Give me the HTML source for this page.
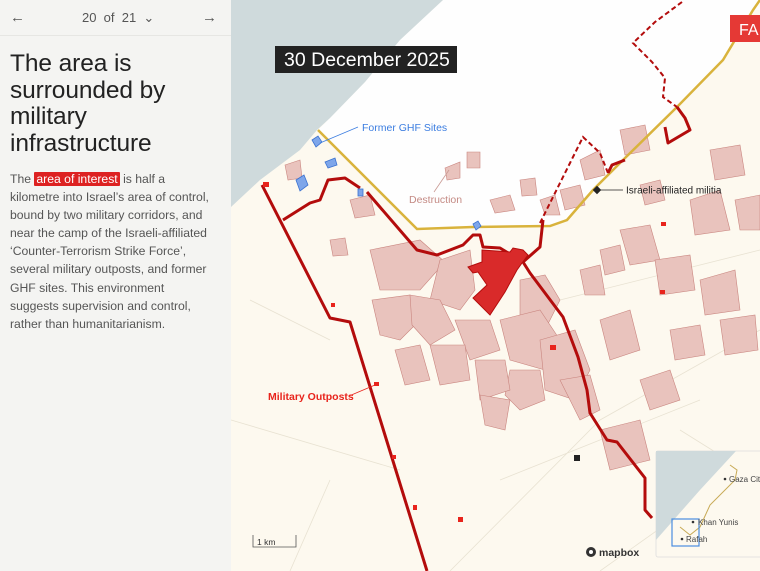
<!DOCTYPE html>
<html><head><meta charset="utf-8"><style>
*{margin:0;padding:0;box-sizing:border-box}
body{width:760px;height:571px;overflow:hidden;background:#f4f4f2;font-family:"Liberation Sans",sans-serif;position:relative}
#left{position:absolute;left:0;top:0;width:231px;height:571px;background:#f4f4f2}
#nav{height:36px;border-bottom:1px solid #e6e6e3;position:relative;color:#555;font-size:13px}
#nav .l{position:absolute;left:10px;top:9px;font-size:15px}
#nav .r{position:absolute;left:202px;top:9px;font-size:15px}
#nav .c{position:absolute;left:82px;top:10px;color:#555}
h1{position:absolute;left:10px;top:51px;font-size:24.5px;line-height:26.7px;font-weight:normal;color:#222;letter-spacing:-0.1px}
p{position:absolute;left:10px;top:170px;width:220px;font-size:12.2px;line-height:18.1px;color:#555}
.hl{background:#dd2222;color:#fff;padding:0 2px;border-radius:1px}
#map{position:absolute;left:231px;top:0;width:529px;height:571px}
</style></head><body>
<div id="left">
<div id="nav"><span class="l">←</span><span class="c">20 &nbsp;of &nbsp;21 &nbsp;⌄</span><span class="r">→</span></div>
<h1>The area is<br>surrounded by<br>military<br>infrastructure</h1>
<p>The <span class="hl">area of interest</span> is half a<br>kilometre into Israel’s area of control,<br>bound by two military corridors, and<br>near the camp of the Israeli-affiliated<br>‘Counter-Terrorism Strike Force’,<br>several military outposts, and former<br>GHF sites. This environment<br>suggests supervision and control,<br>rather than humanitarianism.</p>
</div>
<svg id="map" width="529" height="571" viewBox="231 0 529 571" xmlns="http://www.w3.org/2000/svg">
<rect x="231" y="0" width="529" height="571" fill="#fdf9ef"/>
<polygon points="443,0 760,0 760,10 753,10 723,60 677,107 623,160 593,190 567,220 550,226 473,227 417,229 318,130 330,118 365,82 400,40" fill="#fefefe"/>
<polygon points="231,0 443,0 400,40 365,82 330,118 317,130 300,150 260,180 231,207" fill="#cfdadc"/>
<g stroke="#e8e2d2" stroke-width="0.8" fill="none">
<path d="M231,420 L400,470 M450,571 L600,420 L760,330 M290,571 L330,480 M500,480 L700,400 M600,571 L700,500 M560,300 L760,250 M680,430 L760,480 M250,300 L330,340"/>
</g>
<g fill="#e9c3bd" stroke="#c9857f" stroke-width="0.6">
<polygon points="370,250 420,240 445,262 420,290 380,290"/>
<polygon points="440,260 470,250 475,290 460,310 430,300"/>
<polygon points="372,300 410,295 420,320 400,340 380,335"/>
<polygon points="410,295 440,300 455,330 430,345 412,325"/>
<polygon points="520,280 545,275 560,300 545,330 520,320"/>
<polygon points="500,320 540,310 560,340 545,370 510,360"/>
<polygon points="540,340 575,330 590,370 575,400 545,390"/>
<polygon points="510,370 540,370 545,400 520,410 505,395"/>
<polygon points="560,380 590,375 600,410 580,420"/>
<polygon points="455,320 490,320 500,350 470,360"/>
<polygon points="430,345 465,345 470,380 440,385"/>
<polygon points="475,360 505,360 510,390 480,400"/>
<polygon points="480,395 510,400 505,430 485,425"/>
<polygon points="395,350 420,345 430,380 405,385"/>
<polygon points="600,320 630,310 640,350 610,360"/>
<polygon points="620,230 650,225 660,260 630,265"/>
<polygon points="655,260 690,255 695,290 660,295"/>
<polygon points="700,280 735,270 740,310 705,315"/>
<polygon points="690,200 720,190 730,230 695,235"/>
<polygon points="720,320 755,315 758,350 725,355"/>
<polygon points="640,380 670,370 680,400 650,410"/>
<polygon points="600,430 640,420 650,460 610,470"/>
<polygon points="445,168 460,162 460,178 447,180"/>
<polygon points="467,152 480,152 480,168 467,168"/>
<polygon points="640,185 660,180 665,200 645,205"/>
<polygon points="580,160 600,150 605,175 585,180"/>
<polygon points="620,130 645,125 650,150 625,155"/>
<polygon points="560,190 580,185 585,205 565,210"/>
<polygon points="710,150 740,145 745,175 715,180"/>
<polygon points="540,200 555,195 560,215 545,215"/>
<polygon points="600,250 620,245 625,270 605,275"/>
<polygon points="670,330 700,325 705,355 675,360"/>
<polygon points="580,270 600,265 605,295 585,295"/>
<polygon points="735,200 760,195 760,230 740,230"/>
<polygon points="350,200 370,195 375,215 355,218"/>
<polygon points="330,240 345,238 348,255 333,256"/>
<polygon points="285,165 300,160 302,178 288,180"/>
<polygon points="490,200 510,195 515,210 495,213"/>
<polygon points="520,180 535,178 537,195 522,196"/>
</g>
<polyline points="318,130 417,229 473,227 550,226 567,220 593,190 623,160 677,107 723,60 753,10 760,0" fill="none" stroke="#d9b33c" stroke-width="2.5"/>
<g fill="none" stroke="#b30c0c" stroke-width="3" stroke-linejoin="round">
<polyline points="262,185 330,318 350,322 427,571"/>
<polyline points="283,220 310,203 320,200 328,180 345,178 360,188"/>
<polyline points="367,192 417,250 437,255 463,245 473,235 480,235 483,247 500,248 523,262 540,247 543,220"/>
<polyline points="523,262 530,273 563,317 578,357 587,390 590,413 607,440 617,442 645,478 645,510 652,518"/>
<polyline points="665,127 668,143 690,130 685,118 677,107"/>
<polyline points="608,173 612,165 625,160"/>
</g>
<g fill="none" stroke="#b30c0c" stroke-width="2" stroke-dasharray="5,3">
<polyline points="540,223 583,137 600,153 608,173"/>
<polyline points="682,2 655,22 633,43 652,62 665,78 663,97 677,107"/>
</g>
<polygon points="482,250 510,252 513,248 523,250 528,255 522,263 517,270 505,292 490,315 473,298 487,285 478,272 473,273 468,267 482,262" fill="#d92a2a" stroke="#b30c0c" stroke-width="1"/>
<g fill="#e8241c">
<rect x="263" y="182" width="6" height="5"/><rect x="374" y="382" width="5" height="4"/><rect x="392" y="455" width="4" height="4"/><rect x="413" y="505" width="4" height="5"/><rect x="458" y="517" width="5" height="5"/><rect x="550" y="345" width="6" height="5"/><rect x="660" y="290" width="5" height="4"/><rect x="661" y="222" width="5" height="4"/><rect x="331" y="303" width="4" height="4"/>
</g>
<rect x="574" y="455" width="6" height="6" fill="#222"/>
<g fill="#7ea6ea" stroke="#3b72d0" stroke-width="0.8">
<polygon points="312,140 318,136 322,142 316,147"/><polygon points="325,162 335,158 337,165 328,168"/><polygon points="296,180 304,175 308,185 300,191"/><rect x="358" y="189" width="5" height="7"/><polygon points="473,224 478,221 481,226 476,230"/>
</g>
<line x1="358" y1="127" x2="320" y2="143" stroke="#3b7de0" stroke-width="0.8"/>
<text x="362" y="131" font-size="10.5" fill="#3b7de0" font-family="Liberation Sans">Former GHF Sites</text>
<line x1="449" y1="170" x2="434" y2="192" stroke="#c99a94" stroke-width="0.8"/>
<text x="409" y="203" font-size="10.5" fill="#c48a84" font-family="Liberation Sans">Destruction</text>
<rect x="594" y="187" width="6" height="6" fill="#222" transform="rotate(45 597 190)"/>
<line x1="600" y1="190" x2="623" y2="190" stroke="#222" stroke-width="0.8"/>
<text x="626" y="193.5" font-size="10" fill="#222" font-family="Liberation Sans">Israeli-affiliated militia</text>
<text x="268" y="400" font-size="10.5" fill="#e8241c" font-weight="bold" font-family="Liberation Sans">Military Outposts</text>
<line x1="349" y1="396" x2="375" y2="385" stroke="#e8241c" stroke-width="0.8"/>
<rect x="275" y="46" width="182" height="27" fill="#222"/>
<text x="284" y="66" font-size="19.5" fill="#fff" font-family="Liberation Sans">30 December 2025</text>
<rect x="730" y="15" width="30" height="27" fill="#e53935"/>
<text x="739" y="35" font-size="16" fill="#fff" font-family="Liberation Sans">FA</text>
<polyline points="253,535 253,547 296,547 296,535" fill="none" stroke="#555" stroke-width="0.8"/>
<text x="257" y="545" font-size="8.5" fill="#333" font-family="Liberation Sans">1 km</text>
<circle cx="591" cy="552" r="5" fill="#333"/><circle cx="591" cy="552" r="2" fill="#fff"/>
<text x="599" y="556" font-size="10.5" fill="#333" font-weight="bold" font-family="Liberation Sans">mapbox</text>
<rect x="656" y="451" width="110" height="106" rx="2" fill="#fdf9ef" stroke="#ddd" stroke-width="0.8"/>
<polygon points="656,451 736,451 700,490 656,540" fill="#cfdadc"/>
<polyline points="730,465 737,470 735,480 710,505 700,527 690,535 680,527" fill="none" stroke="#c8aa55" stroke-width="1"/>
<rect x="672" y="519" width="27" height="27" fill="none" stroke="#4a8de0" stroke-width="1.2"/>
<g font-size="8" fill="#444" font-family="Liberation Sans"><circle cx="725" cy="479" r="1.3" fill="#333"/><text x="729" y="482">Gaza City</text>
<circle cx="693" cy="522" r="1.3" fill="#333"/><text x="698" y="525">Khan Yunis</text>
<circle cx="682" cy="539" r="1.3" fill="#333"/><text x="686" y="542">Rafah</text></g>
</svg>
</body></html>
